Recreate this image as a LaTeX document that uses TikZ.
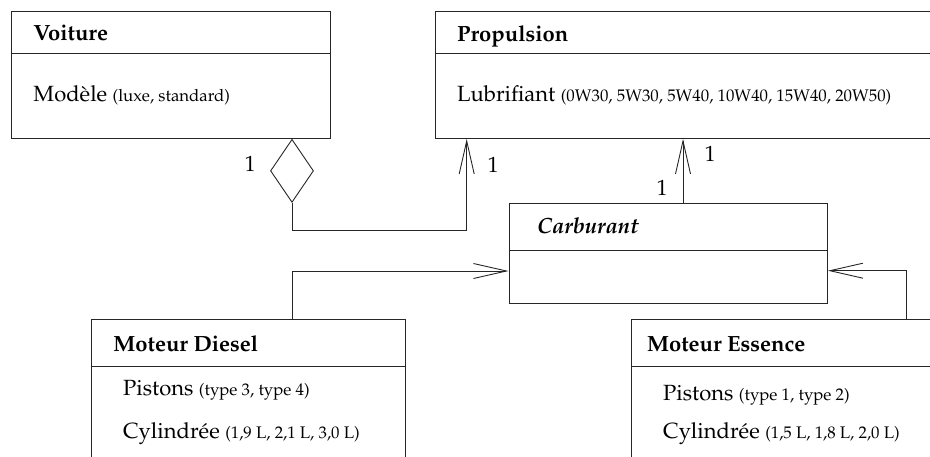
\documentclass[tikz,border=0pt]{standalone}
\usepackage[T1]{fontenc}
\usepackage{mathpazo}
\usetikzlibrary{arrows.meta,shapes.geometric}

% text sizes: attribute names and their value lists
\newcommand\mainsz{\fontsize{22}{26}\selectfont}
\newcommand\valsz{\fontsize{16.8}{20}\selectfont}

\tikzset{
  umlbox/.style={draw, inner sep=0pt, anchor=north west},
  txt/.style={anchor=base west, inner sep=0pt, font=\mainsz},
  mult/.style={anchor=base, inner sep=0pt, font=\mainsz},
  assoc/.style={-{Straight Barb[length=33pt,width=15pt]}},
  aggr/.style={draw, diamond, inner sep=0pt, minimum width=43pt, minimum height=63pt, aspect=0.68},
}

\begin{document}
\begin{tikzpicture}[x=1pt, y=-1pt, line width=0.9pt, draw=black!85]
\useasboundingbox (0,0) rectangle (930,456);
\clip (0,0) rectangle (930,456);

% class boxes
\node[umlbox, minimum width=319pt, minimum height=127pt] (voiture) at (11,11) {};
\node[umlbox, minimum width=510pt, minimum height=127pt] (prop) at (435,11) {};
\node[umlbox, minimum width=318.5pt, minimum height=100pt] (carb) at (508.5,202.5) {};
\node[umlbox, minimum width=314.5pt, minimum height=160pt] (diesel) at (90.5,318.5) {};
\node[umlbox, minimum width=320pt, minimum height=160pt] (essence) at (631,318.5) {};

% compartment dividers
\draw ([yshift=-42pt]voiture.north west) -- ([yshift=-42pt]voiture.north east);
\draw ([yshift=-42pt]prop.north west) -- ([yshift=-42pt]prop.north east);
\draw ([yshift=-47.5pt]carb.north west) -- ([yshift=-47.5pt]carb.north east);
\draw ([yshift=-48pt]diesel.north west) -- ([yshift=-48pt]diesel.north east);
\draw ([yshift=-47.5pt]essence.north west) -- ([yshift=-47.5pt]essence.north east);

% class names and attributes
\node[txt, font=\mainsz\bfseries] (tv) at (33,40.7) {Voiture};
\node[txt] (av) at (33,101) {Mod\`ele {\valsz(luxe, standard)}};

\node[txt, font=\mainsz\bfseries] (tp) at (456.7,41) {Propulsion};
\node[txt] (ap) at (456.7,101) {Lubrifiant {\valsz(0W30, 5W30, 5W40, 10W40, 15W40, 20W50)}};

\node[txt, font=\mainsz\bfseries\itshape] (tc) at (536.7,233) {Carburant};

\node[txt, font=\mainsz\bfseries] (td) at (113,351.7) {Moteur Diesel};
\node[txt] (ad1) at (122.7,395) {Pistons {\valsz(type 3, type 4)}};
\node[txt] (ad2) at (122.7,438) {Cylindr\'ee {\valsz(1,9 L, 2,1 L, 3,0 L)}};

\node[txt, font=\mainsz\bfseries] (te) at (646.7,351.7) {Moteur Essence};
\node[txt] (ae1) at (662.7,400.7) {Pistons {\valsz(type 1, type 2)}};
\node[txt] (ae2) at (662.7,438.3) {Cylindr\'ee {\valsz(1,5 L, 1,8 L, 2,0 L)}};

% aggregation Voiture -> Propulsion
\node[aggr, anchor=north] (agg) at (voiture.south -| 292,0) {};
\coordinate (k1) at (466.7,230);
\draw[assoc] (agg.south) |- (k1) -- (prop.south -| k1);
\node[mult] (m1) at (250,171) {1};
\node[mult] (m2) at (493,172) {1};

% association Carburant -> Propulsion
\coordinate (k2) at (683,0);
\draw[assoc] (carb.north -| k2) -- (prop.south -| k2);
\node[mult] (m3) at (710,161) {1};
\node[mult] (m4) at (662,195) {1};

% specialisations towards Carburant
\coordinate (k3) at (292.3,271);
\draw[assoc] (diesel.north -| k3) |- (carb.west |- k3);
\coordinate (k4) at (906,270.7);
\draw[assoc] (essence.north -| k4) |- (carb.east |- k4);
\end{tikzpicture}
\end{document}
